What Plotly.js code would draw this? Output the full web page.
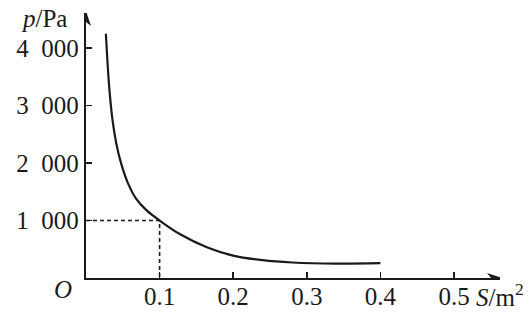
<!DOCTYPE html>
<html><head><meta charset="utf-8">
<script src="https://cdn.plot.ly/plotly-3.0.1.min.js"></script>
<style>html,body{margin:0;padding:0;background:#fff}#c{width:532px;height:312px}</style>
</head><body><div id="c"></div>
<script>
// curve
const S = [0.027, 0.029, 0.032, 0.036, 0.041, 0.048, 0.057, 0.068, 0.082, 0.100, 0.128, 0.165, 0.200, 0.240, 0.280, 0.340, 0.400];
const P = [4250, 3800, 3250, 2750, 2350, 1980, 1650, 1380, 1180, 1000, 760, 530, 390, 310, 270, 250, 258];
// guide point (dashed)
const guideS = 0.1;
const guideP = 1000;
// ticks
const xTicks = [0.1, 0.2, 0.3, 0.4, 0.5];
const xTickText = ['0.1', '0.2', '0.3', '0.4', '0.5'];
const yTicks = [1000, 2000, 3000, 4000];
const yTickText = ['1\u2002000', '2\u2002000', '3\u2002000', '4\u2002000'];

const xMax = 0.5625, yMax = 4610;
const ink = '#1a1a1a';
const font = {family: 'Liberation Serif, Times New Roman, serif', size: 25, color: ink};

const traces = [
  {x: S, y: P, mode: 'lines', line: {color: ink, width: 2.2, shape: 'spline', smoothing: 1}, hoverinfo: 'skip'},
  {x: [0, guideS, guideS], y: [guideP, guideP, 0], mode: 'lines', line: {color: ink, width: 1.6, dash: '4px,3px'}, hoverinfo: 'skip'}
];

const layout = {
  width: 532, height: 312,
  margin: {l: 86, r: 32, t: 13, b: 34},
  paper_bgcolor: '#fff', plot_bgcolor: '#fff',
  showlegend: false,
  font: font,
  xaxis: {range: [0, xMax], showgrid: false, zeroline: false, showline: true, linecolor: ink, linewidth: 2.2,
    tickvals: xTicks, ticktext: xTickText, ticks: 'inside', ticklen: 6, tickwidth: 1.6, tickcolor: ink,
    tickfont: font, ticklabelstandoff: -5, fixedrange: true},
  yaxis: {range: [0, yMax], showgrid: false, zeroline: false, showline: true, linecolor: ink, linewidth: 2.2,
    tickvals: yTicks, ticktext: yTickText, ticks: 'inside', ticklen: 6, tickwidth: 1.6, tickcolor: ink,
    tickfont: font, fixedrange: true},
  shapes: [
    {type: 'path', xref: 'x', yref: 'y', xsizemode: 'pixel', ysizemode: 'pixel', xanchor: xMax, yanchor: 0,
     path: 'M 2,0 L -13,5 L -9,0 L -13,-5 Z', fillcolor: ink, line: {width: 0}},
    {type: 'path', xref: 'x', yref: 'y', xsizemode: 'pixel', ysizemode: 'pixel', xanchor: 0, yanchor: yMax,
     path: 'M 0,2 L -5,-13 L 0,-9 L 5,-13 Z', fillcolor: ink, line: {width: 0}}
  ],
  annotations: [
    {x: 44, y: 18, text: '<i>p</i>/Pa'},
    {x: 63, y: 289, text: '<i>O</i>'},
    {x: 500, y: 295, text: '<i>S</i>/m<sup>2</sup>'}
  ]
};
// place pixel-positioned labels in paper coords
const pw = 532 - 86 - 32, ph = 312 - 13 - 34;
layout.annotations.forEach(a => {
  a.xref = 'paper'; a.yref = 'paper'; a.showarrow = false; a.font = font;
  a.x = (a.x - 86) / pw; a.y = 1 - (a.y - 13) / ph;
  a.xanchor = 'center'; a.yanchor = 'middle';
});
Plotly.newPlot('c', traces, layout, {displayModeBar: false, staticPlot: true});
</script>
</body></html>
